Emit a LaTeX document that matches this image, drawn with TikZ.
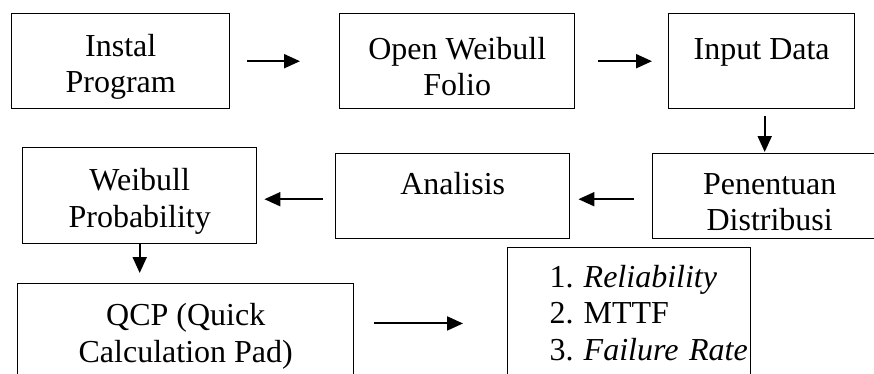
\documentclass[tikz,border=0pt]{standalone}
\usepackage{fontspec}
\setmainfont{Liberation Serif}
\usetikzlibrary{arrows.meta,calc,positioning}
\newcommand{\tstrut}{\rule{0pt}{33pt}}
\tikzstyle{stepbox}=[draw,line width=1.4pt,anchor=north west,align=center,inner sep=0pt,font=\fontsize{32}{36.5}\selectfont]
\tikzstyle{flow}=[line width=2pt,-{Triangle[length=16pt,width=14pt]}]

\begin{document}
\begin{tikzpicture}[x=1pt,y=-1pt]
\clip (0,0) rectangle (874,373);
\node [stepbox, minimum width=218pt, minimum height=95pt] (inst) at (11,13) {\tstrut Instal\\Program};
\node [stepbox, minimum width=235pt, minimum height=95pt] (open) at (339,13) {\tstrut Open Weibull\\Folio};
\node [stepbox, minimum width=186pt, minimum height=95pt] (inp) at (668,13) {\tstrut Input Data\\~};
\node [stepbox, minimum width=234pt, minimum height=85pt] (pen) at (652,153) {\tstrut Penentuan\\Distribusi};
\node [stepbox, minimum width=234pt, minimum height=85pt] (ana) at (335,153) {\tstrut Analisis\\~};
\node [stepbox, minimum width=234pt, minimum height=96pt] (wp) at (22,147) {\tstrut Weibull\\Probability};
\node [stepbox, minimum width=336pt, minimum height=94pt] (qcp) at (17,283) {\tstrut QCP (Quick\\Calculation Pad)};
\node [stepbox, minimum width=243pt, minimum height=137pt, text width=243pt, align=left] (res) at (507,247)
  {\begin{tabular}{@{\hspace{42pt}}p{34pt}@{}l@{}}
  1. & \textit{Reliability}\\
  2. & MTTF\\
  3. & \textit{Failure Rate}
  \end{tabular}};
\coordinate (m) at ($(qcp.east)!.5!(res.west)$);
\draw [flow, shorten <=17pt, shorten >=39pt] (inst.east) -- (open.west);
\draw [flow, shorten <=23pt, shorten >=16pt] (open.east) -- (inp.west);
\draw [flow, shorten <=7pt, shorten >=1pt] ([xshift=3pt]inp.south) -- ([xshift=3pt]inp.south |- pen.north);
\draw [flow, shorten <=18pt, shorten >=8pt] ([yshift=-3pt]pen.west) -- ([yshift=-3pt]pen.west -| ana.east);
\draw [flow, shorten <=12pt, shorten >=7pt] ([yshift=-3pt]ana.west) -- ([yshift=-3pt]ana.west -| wp.east);
\draw [flow, shorten >=10pt] (wp.south) -- (wp.south |- qcp.north);
\draw [flow, shorten <=20pt, shorten >=44pt] (qcp.east |- m) -- (res.west |- m);
\end{tikzpicture}
\end{document}
